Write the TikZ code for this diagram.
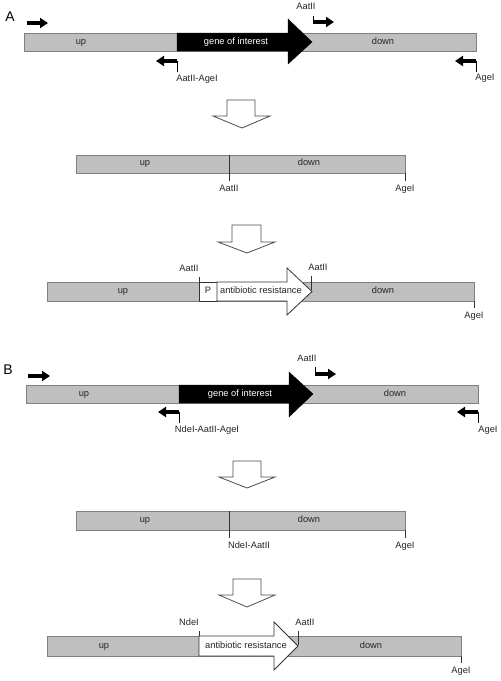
\documentclass[tikz,border=0pt]{standalone}
\usepackage{fontspec}
\setmainfont{Liberation Sans}
\usepackage{xcolor}
\usepackage{tikz}
\usetikzlibrary{arrows.meta}

\tikzset{
  bar/.style={draw=gray, fill=lightgray, line width=0.8pt},
  primer/.style={line width=3.2pt, -{Triangle[length=8pt,width=10pt]}},
  stem/.style={line width=1pt, draw=black},
  site/.style={line width=0.8pt, draw=black!80},
  hollow/.style={draw=black!70, fill=white, line width=0.8pt},
  letter/.style={font=\fontsize{14}{16}\selectfont},
  lbl/.style={text=black!85, text height=6.5pt, text depth=2.5pt}
}

\begin{document}
\begin{tikzpicture}[x=1pt, y=-1pt, font=\fontsize{9.3}{11}\selectfont]
        \useasboundingbox (0,0) rectangle (501,681);

        % ---------------- A
        \node[letter] (labA) at (10,17) {A};

        \draw[bar] (24,33) rectangle (476,51);
        \filldraw[black] (177,33) -- (288,33) -- (288,19) -- (312,42) -- (288,64) -- (288,51) -- (177,51) -- cycle;
        \node[lbl] (upA1) at (81,42) {up};
        \node[lbl, text=white] (goiA) at (236,42) {gene of interest};
        \node[lbl] (downA1) at (383,42) {down};

        \coordinate (fwdA1) at (27,23);
        \coordinate (fwdA2) at (48,23);
        \draw[primer] (fwdA1) -- (fwdA2);

        \node[lbl] (aatA1) at (306,7) {AatII};
        \coordinate (aatA1s) at (313,16);
        \coordinate (aatA1c) at (313,22);
        \coordinate (aatA1e) at (334,22);
        \draw[stem] (aatA1s) -- (aatA1c);
        \draw[primer] (aatA1c) -- (aatA1e);

        \node[lbl] (aagA1) at (197,79) {AatII-AgeI};
        \coordinate (aagA1s) at (177,72);
        \coordinate (aagA1c) at (177,61);
        \coordinate (aagA1e) at (156,61);
        \draw[stem] (aagA1s) -- (aagA1c);
        \draw[primer] (aagA1c) -- (aagA1e);

        \node[lbl] (ageA1) at (485,78) {AgeI};
        \coordinate (ageA1s) at (476,72);
        \coordinate (ageA1c) at (476,61);
        \coordinate (ageA1e) at (455,61);
        \draw[stem] (ageA1s) -- (ageA1c);
        \draw[primer] (ageA1c) -- (ageA1e);

        \draw[hollow] (227,100) -- (255,100) -- (255,116) -- (270,116) -- (242,128) -- (213,116) -- (227,116) -- cycle;

        \draw[bar] (76,155) rectangle (405,173);
        \draw[site] (229,155) -- (229,173);
        \node[lbl] (upA2) at (145,163) {up};
        \node[lbl] (downA2) at (309,163) {down};
        \node[lbl] (aatA2) at (229,189) {AatII};
        \node[lbl] (ageA2) at (405,189) {AgeI};
        \draw[site] (229,173) -- (aatA2.north);
        \draw[site] (405,173) -- (ageA2.north);

        \draw[hollow] (232,225) -- (261,225) -- (261,242) -- (275,242) -- (247,253) -- (218,242) -- (232,242) -- cycle;

        \draw[bar] (47,282) rectangle (474,301);
        \draw[draw=black!80, fill=white, line width=0.8pt] (199,282) rectangle (217,301);
        \draw[draw=black!80, fill=white, line width=0.8pt] (217,282) -- (287,282) -- (287,268) -- (312,291.5) -- (287,315) -- (287,301) -- (217,301) -- cycle;
        \node[lbl] (upA3) at (123,291) {up};
        \node[lbl] (pA3) at (208,291) {P};
        \node[lbl] (abrA3) at (261,291) {antibiotic resistance};
        \node[lbl] (downA3) at (383,291) {down};
        \node[lbl] (aatA3l) at (189,269) {AatII};
        \node[lbl] (aatA3r) at (318,268) {AatII};
        \node[lbl] (ageA3) at (474,316) {AgeI};
        \coordinate (siteA3l) at (199,282);
        \coordinate (siteA3r) at (311,290);
        \coordinate (siteA3a) at (474,301);
        \draw[site] (siteA3l) -- (siteA3l |- aatA3l.south);
        \draw[site] (siteA3r) -- (siteA3r |- aatA3r.south);
        \draw[site] (siteA3a) -- (ageA3.north);

        % ---------------- B
        \node[letter] (labB) at (8,370) {B};

        \draw[bar] (26,385) rectangle (478,403);
        \filldraw[black] (179,385) -- (289,385) -- (289,372) -- (313,394) -- (289,417) -- (289,403) -- (179,403) -- cycle;
        \node[lbl] (upB1) at (84,394) {up};
        \node[lbl, text=white] (goiB) at (240,394) {gene of interest};
        \node[lbl] (downB1) at (395,394) {down};

        \coordinate (fwdB1) at (28,376);
        \coordinate (fwdB2) at (50,376);
        \draw[primer] (fwdB1) -- (fwdB2);

        \node[lbl] (aatB1) at (307,359) {AatII};
        \coordinate (aatB1s) at (315,367);
        \coordinate (aatB1c) at (315,374);
        \coordinate (aatB1e) at (336,374);
        \draw[stem] (aatB1s) -- (aatB1c);
        \draw[primer] (aatB1c) -- (aatB1e);

        \node[lbl] (naaB1) at (207,430) {NdeI-AatII-AgeI};
        \coordinate (naaB1s) at (179,423);
        \coordinate (naaB1c) at (179,412);
        \coordinate (naaB1e) at (158,412);
        \draw[stem] (naaB1s) -- (naaB1c);
        \draw[primer] (naaB1c) -- (naaB1e);

        \node[lbl] (ageB1) at (488,430) {AgeI};
        \coordinate (ageB1s) at (478,423);
        \coordinate (ageB1c) at (478,412);
        \coordinate (ageB1e) at (457,412);
        \draw[stem] (ageB1s) -- (ageB1c);
        \draw[primer] (ageB1c) -- (ageB1e);

        \draw[hollow] (233,461) -- (261,461) -- (261,477) -- (275,477) -- (247,488) -- (219,477) -- (233,477) -- cycle;

        \draw[bar] (76,511) rectangle (405,530);
        \draw[site] (229,511) -- (229,530);
        \node[lbl] (upB2) at (145,520) {up};
        \node[lbl] (downB2) at (309,520) {down};
        \node[lbl] (naB2) at (249,546) {NdeI-AatII};
        \node[lbl] (ageB2) at (405,546) {AgeI};
        \coordinate (siteB2n) at (229,530);
        \draw[site] (siteB2n) -- (siteB2n |- naB2.north);
        \draw[site] (405,530) -- (ageB2.north);

        \draw[hollow] (233,579) -- (261,579) -- (261,595) -- (275,595) -- (247,607) -- (219,595) -- (233,595) -- cycle;

        \draw[bar] (47,636) rectangle (461,656);
        \draw[draw=black!80, fill=white, line width=0.8pt] (199,636) -- (274,636) -- (274,622) -- (298,646) -- (274,670) -- (274,656) -- (199,656) -- cycle;
        \node[lbl] (upB3) at (104,646) {up};
        \node[lbl] (abrB3) at (246,646) {antibiotic resistance};
        \node[lbl] (downB3) at (371,646) {down};
        \node[lbl] (ndeB3) at (189,623) {NdeI};
        \node[lbl] (aatB3) at (305,623) {AatII};
        \node[lbl] (ageB3) at (461,671) {AgeI};
        \coordinate (siteB3n) at (199,636);
        \coordinate (siteB3a) at (298,645);
        \coordinate (siteB3g) at (461,656);
        \draw[site] (siteB3n) -- (siteB3n |- ndeB3.south);
        \draw[site] (siteB3a) -- (siteB3a |- aatB3.south);
        \draw[site] (siteB3g) -- (ageB3.north);
\end{tikzpicture}
\end{document}
